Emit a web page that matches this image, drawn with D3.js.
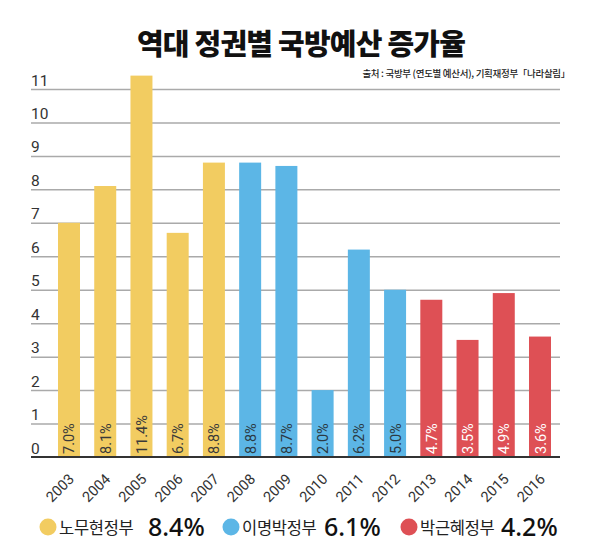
<!DOCTYPE html>
<html>
<head>
<meta charset="utf-8">
<script src="https://cdn.jsdelivr.net/npm/d3@7"></script>
<style>
  html, body { margin: 0; padding: 0; background: #fff; }
  svg { display: block; }
</style>
</head>
<body>
<script>
const years = ["2003","2004","2005","2006","2007","2008","2009","2010","2011","2012","2013","2014","2015","2016"];
const values = [7.0, 8.1, 11.4, 6.7, 8.8, 8.8, 8.7, 2.0, 6.2, 5.0, 4.7, 3.5, 4.9, 3.6];
const govts = ["노무현정부","노무현정부","노무현정부","노무현정부","노무현정부","이명박정부","이명박정부","이명박정부","이명박정부","이명박정부","박근혜정부","박근혜정부","박근혜정부","박근혜정부"];
const legendNames = ["노무현정부","이명박정부","박근혜정부"];
const legendAvg = ["8.4%","6.1%","4.2%"];
const yTicks = [0,1,2,3,4,5,6,7,8,9,10,11];
const title = "역대 정권별 국방예산 증가율";
const source = "출처 : 국방부 (연도별 예산서), 기획재정부「나라살림」";

const W = 600, H = 554;
const colors = {"노무현정부":"#F2CC61","이명박정부":"#5CB6E6","박근혜정부":"#DE5055"};
const labelColors = {"노무현정부":"#3a3a3a","이명박정부":"#2b3a44","박근혜정부":"#ffffff"};
const font = "'Noto Sans CJK KR', 'Noto Sans', sans-serif";

const svg = d3.select("body").append("svg").attr("width", W).attr("height", H);

const x = d3.scaleBand().domain(years).range([58, 551]).paddingInner(0.393).paddingOuter(0);
const y = d3.scaleLinear().domain([0, 11]).range([457, 89]);

// title
svg.append("text").attr("x", 301).attr("y", 55).attr("text-anchor", "middle")
  .attr("font-family", font).attr("font-weight", 900).attr("font-size", 29)
  .attr("letter-spacing", -0.8)
  .attr("fill", "#111").text(title);

svg.append("text").attr("x", 570).attr("y", 77).attr("text-anchor", "end")
  .attr("font-family", font).attr("font-weight", 500).attr("font-size", 9.5)
  .attr("letter-spacing", -0.3).attr("fill", "#222").text(source);

// gridlines + y labels
const yAxis = d3.axisLeft(y).tickValues(yTicks).tickSize(-(560 - 31)).tickFormat(d3.format("d"));
const gy = svg.append("g").attr("transform", "translate(31,0)").call(yAxis);
gy.select(".domain").remove();
gy.selectAll(".tick line").attr("stroke", "#aaaaaa").attr("stroke-width", 1.5);
gy.selectAll(".tick text")
  .attr("x", 0).attr("dy", -4).attr("text-anchor", "start")
  .attr("font-family", "Roboto, sans-serif").attr("font-size", 15.5).attr("fill", "#333");
gy.selectAll(".tick").filter(d => d === 0).select("line").attr("stroke", "none");

// bars
svg.append("g").selectAll("rect").data(years).join("rect")
  .attr("x", d => x(d)).attr("width", x.bandwidth())
  .attr("y", (d, i) => y(values[i])).attr("height", (d, i) => y(0) - y(values[i]))
  .attr("fill", (d, i) => colors[govts[i]]);

// baseline
svg.append("line").attr("x1", 31).attr("x2", 560).attr("y1", y(0)).attr("y2", y(0))
  .attr("stroke", "#333").attr("stroke-width", 2);

// bar labels
svg.append("g").selectAll("text").data(years).join("text")
  .attr("transform", d => `translate(${x(d) + x.bandwidth() / 2 + 5.5},${y(0) - 3}) rotate(-90)`)
  .attr("text-anchor", "start")
  .attr("font-family", "Roboto, sans-serif").attr("font-size", 14.5)
  .attr("fill", (d, i) => labelColors[govts[i]])
  .text((d, i) => values[i].toFixed(1) + "%");

// x axis labels
const xAxis = d3.axisBottom(x).tickSize(0).tickPadding(0);
const gx = svg.append("g").attr("transform", `translate(0,${y(0)})`).call(xAxis);
gx.select(".domain").remove();
gx.selectAll(".tick text")
  .attr("text-anchor", "end").attr("dy", 0).attr("y", 0)
  .attr("transform", "translate(6,23) rotate(-45)")
  .attr("font-family", "Roboto, sans-serif").attr("font-size", 14.5).attr("fill", "#333");

// legend
const legX = [48, 231, 409];
const nameX = [59, 242, 420];
const avgX = [148, 324, 501];
const lg = svg.append("g");
legendNames.forEach((n, i) => {
  lg.append("circle").attr("cx", legX[i]).attr("cy", 527).attr("r", 8.5).attr("fill", colors[n]);
  lg.append("text").attr("x", nameX[i]).attr("y", 534)
    .attr("font-family", font).attr("font-size", 16.5).attr("letter-spacing", -0.3).attr("fill", "#222").text(n);
  lg.append("text").attr("x", avgX[i]).attr("y", 536)
    .attr("font-family", "'Noto Sans', sans-serif").attr("font-weight", 500).attr("font-size", 25)
    .attr("fill", "#111").text(legendAvg[i]);
});
</script>
</body>
</html>
